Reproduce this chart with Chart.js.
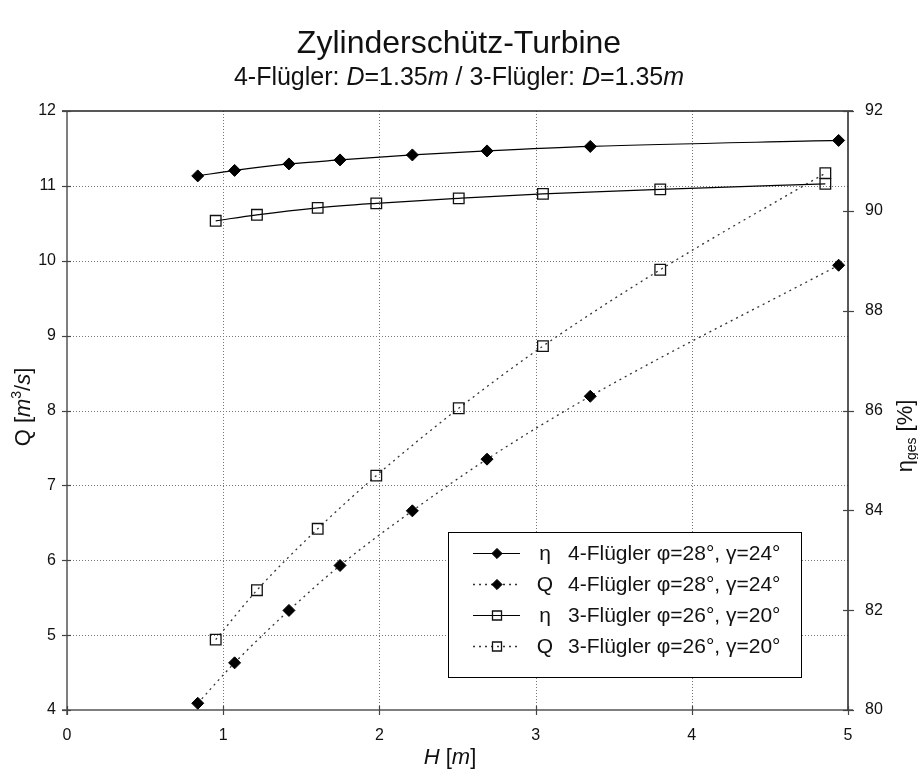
<!DOCTYPE html>
<html>
<head>
<meta charset="utf-8">
<script src="https://cdn.jsdelivr.net/npm/chart.js@4.4.1/dist/chart.umd.min.js"></script>
<style>
  html, body { margin: 0; padding: 0; background: #fff; }
</style>
</head>
<body>
<canvas id="myChart" width="918" height="769"></canvas>
<script>
// DATA
const h4 = [0.837, 1.073, 1.421, 1.748, 2.211, 2.689, 3.350, 4.940];
const eta4 = [90.70, 90.81, 90.94, 91.02, 91.12, 91.20, 91.29, 91.41];
const q4 = [4.09, 4.63, 5.33, 5.93, 6.66, 7.35, 8.19, 9.94];

const h3 = [0.952, 1.216, 1.605, 1.980, 2.508, 3.047, 3.798, 4.855];
const eta3 = [89.80, 89.92, 90.06, 90.15, 90.25, 90.34, 90.43, 90.54];
const q3 = [4.94, 5.60, 6.42, 7.13, 8.03, 8.86, 9.88, 11.17];

const xTicks = [0, 1, 2, 3, 4, 5];
const qTicks = [4, 5, 6, 7, 8, 9, 10, 11, 12];
const etaTicks = [80, 82, 84, 86, 88, 90, 92];

const seriesSymbols = ['η', 'Q', 'η', 'Q'];
const seriesNames = ['4-Flügler φ=28°, γ=24°', '4-Flügler φ=28°, γ=24°', '3-Flügler φ=26°, γ=20°', '3-Flügler φ=26°, γ=20°'];

const FONT = '"Liberation Sans", Arial, Helvetica, sans-serif';

// HELPERS
function toPoints(xs, ys) {
    return xs.map((x, i) => ({ x: x, y: ys[i] }));
}

// draw text made of runs: {t, it, sup, sub}
function runFont(r, size) {
    let s = size;
    if (r.sup || r.sub) s = Math.round(size * 0.62);
    return (r.it ? 'italic ' : '') + s + 'px ' + FONT;
}

function drawRuns(ctx, runs, x, y, size, align) {
    let total = 0;
    runs.forEach((r) => {
        ctx.font = runFont(r, size);
        r.w = ctx.measureText(r.t).width;
        total += r.w;
    });
    let cx = x;
    if (align === 'center') cx = x - total / 2;
    ctx.textAlign = 'left';
    ctx.textBaseline = 'alphabetic';
    runs.forEach((r) => {
        ctx.font = runFont(r, size);
        let dy = 0;
        if (r.sup) dy = -size * 0.42;
        if (r.sub) dy = size * 0.2;
        ctx.fillText(r.t, cx, y + dy);
        cx += r.w;
    });
}

function fixedSize(w, h) {
    return function (scale) {
        if (w !== null) scale.width = w;
        if (h !== null) scale.height = h;
    };
}

// PLUGINS
const framePlugin = {
    id: 'frame',
    beforeDatasetsDraw(chart) {
        const ctx = chart.ctx;
        const a = chart.chartArea;
        const sx = chart.scales.x, sy = chart.scales.y, s2 = chart.scales.y2;
        ctx.save();
        // dotted grid
        ctx.strokeStyle = '#777';
        ctx.lineWidth = 1;
        ctx.setLineDash([1, 2]);
        xTicks.slice(1, -1).forEach((v) => {
            const px = Math.round(sx.getPixelForValue(v)) + 0.5;
            ctx.beginPath(); ctx.moveTo(px, a.top); ctx.lineTo(px, a.bottom); ctx.stroke();
        });
        qTicks.slice(1, -1).forEach((v) => {
            const py = Math.round(sy.getPixelForValue(v)) + 0.5;
            ctx.beginPath(); ctx.moveTo(a.left, py); ctx.lineTo(a.right, py); ctx.stroke();
        });
        ctx.setLineDash([]);
        // frame
        ctx.lineWidth = 1.5;
        ctx.strokeStyle = '#555';
        ctx.beginPath();
        ctx.moveTo(a.left, a.top); ctx.lineTo(a.left, a.bottom + 5);
        ctx.moveTo(a.left - 5, a.bottom); ctx.lineTo(a.right + 5, a.bottom);
        ctx.stroke();
        ctx.strokeStyle = '#222';
        ctx.beginPath();
        ctx.moveTo(a.left - 5, a.top); ctx.lineTo(a.right + 5, a.top);
        ctx.moveTo(a.right, a.top); ctx.lineTo(a.right, a.bottom);
        ctx.stroke();
        // ticks
        ctx.lineWidth = 1.2;
        ctx.strokeStyle = '#444';
        qTicks.forEach((v) => {
            const py = Math.round(sy.getPixelForValue(v)) + 0.5;
            ctx.beginPath(); ctx.moveTo(a.left - 5, py); ctx.lineTo(a.left + 4, py); ctx.stroke();
        });
        xTicks.forEach((v) => {
            const px = Math.round(sx.getPixelForValue(v)) + 0.5;
            ctx.beginPath(); ctx.moveTo(px, a.bottom - 4); ctx.lineTo(px, a.bottom + 5); ctx.stroke();
        });
        etaTicks.forEach((v) => {
            const py = Math.round(s2.getPixelForValue(v)) + 0.5;
            ctx.beginPath(); ctx.moveTo(a.right - 5, py); ctx.lineTo(a.right + 6, py); ctx.stroke();
        });
        ctx.restore();
    },
    afterDraw(chart) {
        const ctx = chart.ctx;
        ctx.save();
        ctx.fillStyle = '#111';
        // titles
        drawRuns(ctx, [{ t: 'Zylinderschütz-Turbine' }], 459, 53, 32, 'center');
        drawRuns(ctx, [
            { t: '4-Flügler: ' }, { t: 'D', it: true }, { t: '=1.35' }, { t: 'm', it: true },
            { t: ' / 3-Flügler: ' }, { t: 'D', it: true }, { t: '=1.35' }, { t: 'm', it: true }
        ], 459, 85, 25, 'center');
        // x axis title
        drawRuns(ctx, [{ t: 'H', it: true }, { t: ' [' }, { t: 'm', it: true }, { t: ']' }], 450, 764, 22, 'center');
        // left axis title
        ctx.save();
        ctx.translate(30, 407);
        ctx.rotate(-Math.PI / 2);
        drawRuns(ctx, [{ t: 'Q [' }, { t: 'm', it: true }, { t: '3', sup: true }, { t: '/' }, { t: 's', it: true }, { t: ']' }], 0, 0, 22, 'center');
        ctx.restore();
        // right axis title
        ctx.save();
        ctx.translate(912, 436);
        ctx.rotate(-Math.PI / 2);
        drawRuns(ctx, [{ t: 'η' }, { t: 'ges', sub: true }, { t: ' [%]' }], 0, 0, 22, 'center');
        ctx.restore();

        // legend
        const box = { l: 448, t: 532, r: 801, b: 677 };
        ctx.fillStyle = '#fff';
        ctx.fillRect(box.l, box.t, box.r - box.l, box.b - box.t);
        ctx.strokeStyle = '#000';
        ctx.lineWidth = 1;
        ctx.strokeRect(box.l + 0.5, box.t + 0.5, box.r - box.l, box.b - box.t);
        const rowY = [553, 584, 615, 646];
        chart.data.datasets.forEach((ds, i) => {
            const y = rowY[i];
            ctx.save();
            ctx.strokeStyle = ds.borderColor;
            ctx.lineWidth = ds.borderWidth;
            ctx.setLineDash(ds.borderDash || []);
            ctx.beginPath(); ctx.moveTo(473, y + 0.5); ctx.lineTo(520, y + 0.5); ctx.stroke();
            ctx.setLineDash([]);
            ctx.fillStyle = ds.pointBackgroundColor;
            ctx.strokeStyle = ds.pointBorderColor;
            ctx.lineWidth = ds.pointBorderWidth;
            Chart.helpers.drawPoint(ctx, {
                pointStyle: ds.pointStyle,
                radius: ds.pointRadius * 0.85,
                borderWidth: ds.pointBorderWidth
            }, 497, y + 0.5);
            ctx.restore();
            ctx.fillStyle = '#111';
            ctx.font = '21px ' + FONT;
            ctx.textBaseline = 'middle';
            ctx.textAlign = 'center';
            ctx.fillText(seriesSymbols[i], 545, y + 1);
            ctx.textAlign = 'left';
            ctx.fillText(seriesNames[i], 568, y + 1);
        });
        ctx.restore();
    }
};

// CHART
const datasets = [
    {
        label: 'η ' + seriesNames[0],
        data: toPoints(h4, eta4),
        yAxisID: 'y2',
        borderColor: '#000',
        borderWidth: 1.2,
        pointStyle: 'rectRot',
        pointRadius: 6,
        pointBackgroundColor: '#000',
        pointBorderColor: '#000',
        pointBorderWidth: 1
    },
    {
        label: 'Q ' + seriesNames[1],
        data: toPoints(h4, q4),
        yAxisID: 'y',
        borderColor: '#333',
        borderWidth: 1.3,
        borderDash: [2, 4],
        pointStyle: 'rectRot',
        pointRadius: 6,
        pointBackgroundColor: '#000',
        pointBorderColor: '#000',
        pointBorderWidth: 1
    },
    {
        label: 'η ' + seriesNames[2],
        data: toPoints(h3, eta3),
        yAxisID: 'y2',
        borderColor: '#000',
        borderWidth: 1.2,
        pointStyle: 'rect',
        pointRadius: 7.5,
        pointBackgroundColor: 'rgba(0,0,0,0)',
        pointBorderColor: '#111',
        pointBorderWidth: 1.3
    },
    {
        label: 'Q ' + seriesNames[3],
        data: toPoints(h3, q3),
        yAxisID: 'y',
        borderColor: '#333',
        borderWidth: 1.3,
        borderDash: [2, 4],
        pointStyle: 'rect',
        pointRadius: 7.5,
        pointBackgroundColor: 'rgba(0,0,0,0)',
        pointBorderColor: '#111',
        pointBorderWidth: 1.3
    }
];

const tickFont = { family: FONT, size: 16 };

const myChart = new Chart(document.getElementById('myChart'), {
    type: 'line',
    data: { datasets: datasets },
    options: {
        responsive: false,
        animation: false,
        layout: { padding: { top: 111, left: 0, right: 0, bottom: 0 } },
        elements: { line: { cubicInterpolationMode: 'monotone' } },
        plugins: { legend: { display: false }, title: { display: false }, tooltip: { enabled: false } },
        scales: {
            x: {
                type: 'linear', position: 'bottom', min: 0, max: 5,
                afterBuildTicks: (s) => { s.ticks = xTicks.map((v) => ({ value: v })); },
                afterFit: fixedSize(null, 59),
                grid: { display: false, drawTicks: false },
                border: { display: false },
                ticks: { font: tickFont, color: '#111', padding: 16, maxRotation: 0 }
            },
            y: {
                type: 'linear', position: 'left', min: 4, max: 12,
                afterBuildTicks: (s) => { s.ticks = qTicks.map((v) => ({ value: v })); },
                afterFit: fixedSize(67, null),
                grid: { display: false, drawTicks: false },
                border: { display: false },
                ticks: { font: tickFont, color: '#111', padding: 11 }
            },
            y2: {
                type: 'linear', position: 'right', min: 80, max: 92,
                afterBuildTicks: (s) => { s.ticks = etaTicks.map((v) => ({ value: v })); },
                afterFit: fixedSize(70, null),
                grid: { display: false, drawTicks: false },
                border: { display: false },
                ticks: { font: tickFont, color: '#111', padding: 17 }
            }
        }
    },
    plugins: [framePlugin]
});
</script>
</body>
</html>
